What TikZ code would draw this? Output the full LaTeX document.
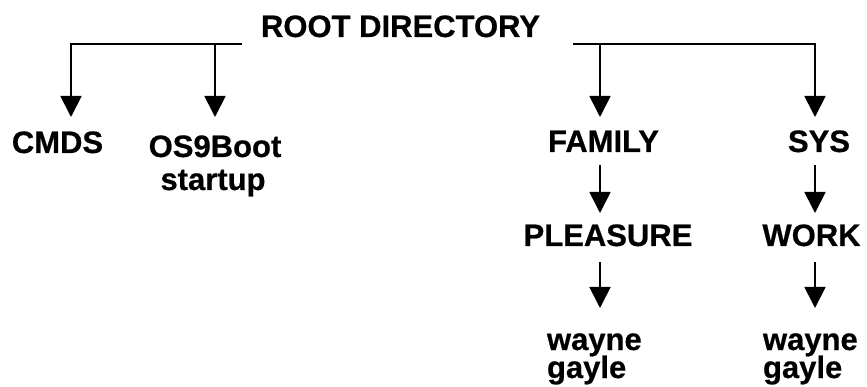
\documentclass[tikz,border=0pt]{standalone}
\usepackage{fontspec}
\setmainfont{Liberation Sans}[BoldFeatures={FakeBold=0.6}]
\usetikzlibrary{arrows.meta}
\begin{document}
\begin{tikzpicture}[x=1pt,y=-1pt,
  lbl/.style={inner sep=0pt,outer sep=0pt,text height=23pt,font=\fontsize{31}{33}\selectfont\bfseries},
  conn/.style={line width=1.8pt},
  arr/.style={conn,-{Triangle[length=21pt,width=21pt]}}]
\path[use as bounding box] (0,0) rectangle (867,387);
% nodes
\node[lbl,anchor=base] (root) at (400.5,37) {ROOT DIRECTORY};
\node[lbl,anchor=base] (cmds) at (57.5,153) {CMDS};
\node[lbl,anchor=base] (os9) at (215,157) {OS9Boot};
\node[lbl,anchor=base] (startup) at (213,190) {startup};
\node[lbl,anchor=base] (family) at (603.5,152) {FAMILY};
\node[lbl,anchor=base] (sys) at (819,152) {SYS};
\node[lbl,anchor=base] (pleasure) at (608,246) {PLEASURE};
\node[lbl,anchor=base] (work) at (811.5,246) {WORK};
\node[lbl,anchor=base west] (wayne1) at (547,350) {wayne};
\node[lbl,anchor=base west] (gayle1) at (547,378) {gayle};
\node[lbl,anchor=base west] (wayne2) at (763,350) {wayne};
\node[lbl,anchor=base west] (gayle2) at (763,378) {gayle};
% column coordinates
\coordinate (c1) at (71,0);
\coordinate (c2) at (215,0);
\coordinate (c3) at (600,0);
\coordinate (c4) at (815,0);
\coordinate (L) at ([xshift=-19pt,yshift=-7pt]root.base west);
\coordinate (R) at ([xshift=33pt,yshift=-7pt]root.base east);
% top bracket
\draw[arr] (L) -| ([yshift=13pt]c1 |- cmds.north);
\draw[arr] (L -| c2) -- ([yshift=17pt]c2 |- os9.north);
\draw[arr] (R) -| ([yshift=12pt]c4 |- sys.north);
\draw[arr] (R -| c3) -- ([yshift=12pt]c3 |- family.north);
% second level
\draw[arr] ([yshift=-13pt]c3 |- family.south) -- ([yshift=10pt]c3 |- pleasure.north);
\draw[arr] ([yshift=-13pt]c4 |- sys.south) -- ([yshift=10pt]c4 |- work.north);
% third level
\draw[arr] ([yshift=-16pt]c3 |- pleasure.south) -- ([yshift=19pt]c3 |- wayne1.north);
\draw[arr] ([yshift=-16pt]c4 |- work.south) -- ([yshift=19pt]c4 |- wayne2.north);
\end{tikzpicture}
\end{document}
